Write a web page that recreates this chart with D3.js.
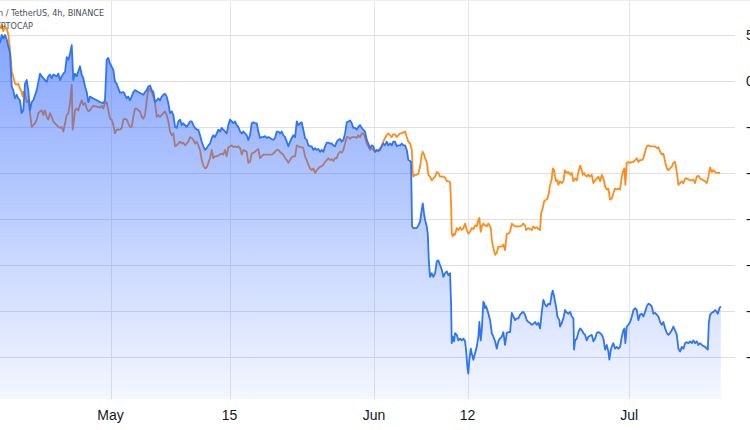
<!DOCTYPE html>
<html>
<head>
<meta charset="utf-8">
<script src="https://cdn.jsdelivr.net/npm/d3@7"></script>
<style>
  html, body { margin: 0; padding: 0; background: #fff; overflow: hidden; }
  svg { display: block; }
</style>
</head>
<body>
<div id="chart"></div>
<script>
// % change vs. start of range, as [days since Apr 18, percent]
var coinPct = [
  [0,4.1],[0.2,5.0],[0.39,4.6],[0.59,5.0],[0.79,4.5],[1.18,3.0],[1.38,-0.6],[1.56,-1.0],[1.76,-1.9],[1.96,-1.5],
  [2.15,-1.9],[2.35,-2.1],[2.55,-3.5],[2.74,-3.2],[2.94,-0.3],[3.14,0.1],[3.33,-1.0],[3.53,-3.2],[3.73,-2.3],[3.92,-2.1],
  [4.32,-1.0],[4.71,0.8],[4.91,0.5],[5.09,0.3],[5.49,-0.1],[5.68,0.5],[5.88,0.7],[6.08,0.3],[6.27,0.7],[6.67,0.5],
  [6.86,0.8],[7.06,0.1],[7.26,0.5],[7.45,0.8],[7.65,1.0],[7.85,2.6],[8.04,2.3],[8.24,3.0],[8.44,3.9],[8.62,0.1],
  [8.82,0.8],[9.02,0.5],[9.41,1.6],[9.61,0.7],[9.8,0.3],[10.0,-0.6],[10.2,-1.2],[10.39,-2.3],[10.59,-1.7],[10.98,-1.9],
  [11.38,-2.1],[11.76,-2.3],[12.15,-2.4],[12.35,-2.1],[12.55,2.3],[12.74,2.5],[12.94,1.9],[13.33,1.2],[13.53,-0.1],[13.73,-0.3],
  [13.92,-0.8],[14.12,-1.3],[14.51,-1.2],[14.71,-1.5],[14.91,-1.9],[15.09,-1.7],[15.29,-2.1],[15.49,-1.7],[15.68,-1.2],[15.88,-1.0],
  [16.27,-1.2],[16.47,-1.3],[16.86,-1.5],[17.06,-1.2],[17.26,-1.0],[17.45,-0.6],[17.65,-0.5],[17.85,-1.0],[18.04,-1.2],[18.24,-2.3],
  [18.44,-2.1],[18.62,-1.9],[18.82,-2.1],[19.02,-1.7],[19.21,-1.5],[19.41,-1.4],[19.61,-1.7],[19.8,-2.4],[20.0,-3.5],[20.2,-3.3],
  [20.39,-3.7],[20.59,-5.0],[20.79,-5.1],[20.98,-4.4],[21.18,-4.2],[21.38,-4.8],[21.56,-4.6],[21.96,-5.0],[22.35,-4.4],[22.55,-4.4],
  [22.74,-4.8],[22.94,-5.1],[23.14,-5.3],[23.33,-5.3],[23.53,-5.9],[23.73,-6.6],[23.92,-7.1],[24.12,-7.5],[24.32,-7.3],[24.51,-7.0],
  [24.71,-6.8],[24.91,-6.2],[25.09,-5.9],[25.29,-6.1],[25.49,-5.7],[25.68,-5.3],[25.88,-5.5],[26.08,-5.1],[26.27,-5.3],[26.47,-5.5],
  [26.67,-5.7],[26.86,-4.8],[27.06,-4.2],[27.26,-4.4],[27.45,-4.6],[27.65,-4.4],[27.85,-4.8],[28.04,-5.0],[28.24,-5.5],[28.44,-5.7],
  [28.62,-5.5],[28.82,-5.7],[29.02,-5.9],[29.21,-6.4],[29.41,-5.9],[29.61,-4.6],[29.8,-4.5],[30.0,-4.6],[30.2,-4.6],[30.39,-5.5],
  [30.59,-6.2],[30.79,-6.1],[30.98,-6.1],[31.18,-6.0],[31.38,-6.2],[31.56,-6.1],[31.76,-6.2],[31.96,-6.3],[32.15,-6.4],[32.35,-6.2],
  [32.55,-5.5],[32.74,-5.5],[32.94,-5.7],[33.14,-5.5],[33.33,-5.9],[33.53,-6.1],[33.73,-6.6],[33.92,-7.1],[34.12,-6.6],[34.32,-6.2],
  [34.51,-5.9],[34.71,-6.1],[34.91,-4.4],[35.09,-4.8],[35.29,-4.6],[35.49,-4.5],[35.68,-5.3],[35.88,-6.2],[36.08,-6.4],[36.27,-7.0],
  [36.47,-7.1],[36.67,-7.1],[36.86,-7.5],[37.06,-7.3],[37.26,-7.5],[37.45,-7.4],[37.65,-7.7],[37.85,-7.5],[38.04,-7.7],[38.24,-7.1],
  [38.44,-6.7],[38.62,-6.7],[38.82,-6.8],[39.02,-6.8],[39.21,-7.0],[39.41,-7.1],[39.61,-6.6],[39.8,-6.4],[40.0,-6.3],[40.2,-6.6],
  [40.39,-6.4],[40.59,-5.7],[40.79,-4.5],[40.98,-4.4],[41.18,-4.3],[41.38,-4.6],[41.56,-5.1],[41.76,-5.1],[41.96,-5.3],[42.15,-5.0],
  [42.35,-4.8],[42.55,-5.1],[42.74,-5.3],[42.94,-5.5],[43.14,-6.4],[43.33,-6.8],[43.53,-7.3],[43.73,-7.0],[43.92,-7.1],[44.12,-7.7],
  [44.32,-7.5],[44.51,-7.6],[44.71,-7.5],[44.91,-7.1],[45.09,-6.8],[45.29,-7.0],[45.49,-6.6],[45.68,-7.0],[45.88,-6.8],[46.08,-7.0],
  [46.27,-6.6],[46.47,-6.6],[46.67,-7.1],[46.86,-7.0],[47.06,-7.0],[47.26,-6.8],[47.45,-7.0],[47.65,-7.0],[47.85,-7.5],[48.04,-8.6],
  [48.24,-8.7],[48.35,-8.8],[48.47,-15.8],[48.62,-16.0],[48.82,-16.0],[49.02,-16.0],[49.21,-15.7],[49.41,-15.3],[49.61,-14.0],[49.73,-13.3],
  [49.88,-14.4],[50.0,-15.1],[50.2,-15.8],[50.32,-16.6],[50.44,-19.5],[50.59,-21.3],[50.79,-20.9],[50.98,-21.3],[51.18,-20.9],[51.38,-19.6],
  [51.56,-19.5],[51.76,-20.0],[51.96,-20.5],[52.15,-21.3],[52.35,-20.9],[52.55,-20.7],[52.74,-21.1],[52.94,-20.9],[53.06,-24.2],[53.14,-28.5],
  [53.26,-27.8],[53.41,-28.3],[53.53,-27.4],[53.73,-27.6],[53.92,-28.2],[54.12,-28.0],[54.32,-28.2],[54.51,-28.0],[54.71,-28.3],[54.82,-29.2],
  [54.98,-31.1],[55.09,-31.8],[55.21,-30.3],[55.38,-29.1],[55.49,-29.6],[55.68,-30.3],[55.88,-29.6],[56.08,-28.9],[56.27,-27.8],[56.39,-26.2],
  [56.55,-28.2],[56.67,-27.1],[56.86,-24.0],[56.98,-24.2],[57.06,-24.7],[57.18,-24.5],[57.33,-24.9],[57.45,-25.3],[57.65,-26.0],[57.85,-27.4],
  [58.04,-27.8],[58.24,-28.3],[58.44,-29.1],[58.62,-28.3],[58.82,-28.0],[59.02,-27.8],[59.21,-27.3],[59.41,-28.7],[59.61,-27.4],[59.8,-27.3],
  [60.0,-27.3],[60.2,-25.2],[60.39,-25.6],[60.59,-26.0],[60.79,-25.8],[60.98,-25.8],[61.18,-25.4],[61.38,-25.2],[61.56,-25.1],[61.76,-25.4],
  [61.96,-26.0],[62.15,-26.2],[62.35,-26.3],[62.55,-26.5],[62.74,-26.4],[62.94,-26.2],[63.14,-26.5],[63.33,-26.3],[63.53,-26.9],[63.73,-25.1],
  [63.92,-23.8],[64.12,-24.3],[64.32,-24.5],[64.51,-24.2],[64.71,-24.3],[64.91,-23.1],[65.02,-22.8],[65.18,-23.4],[65.29,-24.0],[65.41,-24.5],
  [65.56,-25.6],[65.68,-25.8],[65.8,-26.0],[65.88,-26.7],[66.08,-26.3],[66.27,-25.8],[66.47,-24.9],[66.59,-25.1],[66.86,-25.3],[67.06,-25.1],
  [67.26,-25.6],[67.45,-25.8],[67.53,-29.2],[67.65,-28.2],[67.85,-28.0],[68.04,-27.3],[68.24,-26.9],[68.44,-27.1],[68.62,-27.4],[68.82,-27.6],
  [69.02,-28.2],[69.21,-27.8],[69.41,-27.7],[69.61,-27.6],[69.8,-28.3],[70.0,-28.0],[70.2,-27.4],[70.39,-27.3],[70.59,-27.4],[70.79,-27.6],
  [70.98,-28.0],[71.18,-29.2],[71.38,-28.7],[71.56,-29.4],[71.68,-30.3],[71.85,-29.2],[71.96,-28.9],[72.15,-28.5],[72.35,-29.1],[72.55,-28.9],
  [72.74,-29.1],[72.94,-28.9],[73.14,-27.8],[73.33,-27.1],[73.45,-26.9],[73.56,-28.5],[73.73,-26.7],[73.92,-26.5],[74.12,-26.2],[74.32,-25.6],
  [74.51,-24.9],[74.71,-24.7],[74.91,-24.9],[75.09,-26.0],[75.29,-25.4],[75.49,-25.3],[75.68,-25.6],[75.88,-25.1],[76.08,-24.5],[76.27,-24.2],
  [76.47,-24.3],[76.67,-24.5],[76.86,-25.3],[77.06,-25.2],[77.26,-25.4],[77.45,-25.6],[77.65,-26.2],[77.85,-26.5],[78.04,-26.2],[78.24,-26.9],
  [78.44,-27.4],[78.62,-27.6],[78.82,-27.4],[79.02,-27.1],[79.21,-26.7],[79.41,-27.1],[79.61,-27.6],[79.8,-29.1],[80.0,-29.4],[80.2,-28.9],
  [80.39,-29.1],[80.59,-28.5],[80.79,-28.4],[80.98,-28.5],[81.18,-28.3],[81.38,-28.5],[81.56,-28.2],[81.76,-28.5],[81.96,-28.3],[82.15,-28.7],
  [82.35,-28.5],[82.55,-28.7],[82.74,-28.8],[82.94,-28.9],[83.14,-29.1],[83.26,-29.2],[83.38,-26.3],[83.53,-25.4],[83.73,-25.2],[83.92,-25.1],
  [84.12,-24.9],[84.32,-25.1],[84.44,-25.3],[84.62,-24.7],[84.79,-24.5]
];

var totalPct = [
  [0,5.7],[0.2,6.1],[0.39,5.4],[0.59,5.9],[0.79,5.7],[0.98,5.0],[1.18,3.4],[1.38,1.0],[1.56,0.5],[1.76,-0.3],
  [1.96,-0.4],[2.15,-0.3],[2.35,-0.8],[2.55,-1.2],[2.67,-1.7],[2.74,-1.2],[2.94,-1.3],[3.14,-2.3],[3.33,-2.1],[3.53,-3.5],
  [3.73,-5.0],[3.92,-4.8],[4.12,-4.6],[4.32,-4.2],[4.51,-3.5],[4.71,-3.3],[4.91,-3.2],[5.09,-3.7],[5.29,-3.2],[5.49,-3.9],
  [5.68,-4.2],[5.88,-3.5],[6.08,-3.9],[6.27,-4.4],[6.47,-4.6],[6.67,-4.8],[6.86,-5.0],[7.06,-5.1],[7.26,-5.0],[7.45,-5.5],
  [7.65,-4.6],[7.85,-3.7],[8.04,-3.5],[8.24,-2.4],[8.44,-0.4],[8.55,-5.3],[8.71,-4.2],[8.82,-3.2],[9.02,-3.0],[9.21,-3.2],
  [9.41,-2.6],[9.61,-2.1],[9.8,-2.6],[10.0,-2.4],[10.2,-3.0],[10.39,-3.3],[10.59,-3.2],[10.79,-2.9],[10.98,-2.7],[11.38,-2.8],
  [11.76,-2.9],[11.96,-2.7],[12.15,-3.0],[12.35,-2.4],[12.55,-2.3],[12.74,-3.2],[12.94,-4.1],[13.14,-4.2],[13.33,-4.8],[13.53,-5.7],
  [13.73,-5.3],[13.92,-5.3],[14.12,-5.3],[14.32,-5.1],[14.51,-4.2],[14.71,-4.1],[14.91,-4.2],[15.09,-4.6],[15.29,-5.0],[15.49,-5.0],
  [15.68,-3.9],[15.88,-3.0],[16.08,-3.0],[16.27,-3.2],[16.47,-3.3],[16.67,-3.9],[16.86,-4.1],[17.06,-3.7],[17.26,-2.1],[17.45,-0.8],
  [17.65,-1.0],[17.85,-1.2],[18.04,-1.7],[18.24,-2.4],[18.44,-3.9],[18.62,-3.7],[18.82,-3.9],[19.02,-3.7],[19.21,-3.5],[19.41,-3.3],
  [19.61,-3.7],[19.8,-4.4],[20.0,-5.5],[20.2,-5.9],[20.39,-5.7],[20.59,-7.1],[20.79,-7.0],[20.98,-6.8],[21.18,-6.6],[21.38,-6.8],
  [21.56,-6.7],[21.76,-7.0],[21.96,-6.8],[22.15,-6.6],[22.35,-6.1],[22.55,-6.2],[22.74,-6.4],[22.94,-6.8],[23.14,-6.6],[23.33,-7.0],
  [23.53,-7.5],[23.73,-8.6],[23.92,-9.2],[24.12,-9.5],[24.32,-9.4],[24.51,-8.9],[24.71,-8.4],[24.91,-7.5],[25.09,-8.4],[25.29,-8.2],
  [25.49,-8.2],[25.88,-8.0],[26.08,-7.9],[26.27,-8.0],[26.47,-7.5],[26.67,-8.2],[26.86,-7.2],[27.06,-7.1],[27.26,-7.0],[27.45,-7.2],
  [27.65,-7.1],[27.85,-7.2],[28.04,-7.1],[28.24,-7.3],[28.44,-8.0],[28.62,-7.5],[28.82,-7.6],[29.02,-7.7],[29.21,-8.9],[29.41,-8.8],
  [29.61,-7.9],[29.8,-7.8],[30.0,-7.7],[30.2,-7.5],[30.39,-7.4],[30.59,-8.4],[30.79,-8.2],[30.98,-8.0],[31.18,-8.0],[31.38,-8.0],
  [31.56,-8.0],[31.76,-8.0],[31.96,-8.0],[32.15,-7.9],[32.35,-7.7],[32.55,-7.5],[32.74,-7.5],[32.94,-7.7],[33.14,-7.9],[33.33,-8.0],
  [33.53,-8.4],[33.73,-8.6],[33.92,-8.9],[34.12,-8.6],[34.32,-8.3],[34.51,-8.2],[34.71,-8.2],[34.91,-7.0],[35.09,-7.1],[35.29,-7.2],
  [35.49,-7.2],[35.68,-7.3],[35.88,-8.2],[36.08,-8.6],[36.27,-9.1],[36.47,-9.5],[36.67,-9.7],[36.86,-9.5],[37.06,-10.0],[37.26,-9.7],
  [37.45,-9.5],[37.65,-9.3],[37.85,-9.3],[38.04,-9.1],[38.24,-8.8],[38.44,-8.6],[38.62,-8.4],[38.82,-8.6],[39.02,-8.5],[39.21,-8.7],
  [39.41,-8.4],[39.61,-8.4],[39.8,-7.9],[40.0,-7.7],[40.2,-7.8],[40.39,-7.5],[40.59,-6.8],[40.79,-6.1],[40.98,-6.1],[41.18,-6.3],
  [41.38,-6.1],[41.56,-6.1],[41.76,-6.1],[41.96,-6.2],[42.15,-5.9],[42.35,-6.1],[42.55,-5.7],[42.74,-5.7],[42.94,-6.1],[43.14,-6.8],
  [43.33,-7.1],[43.53,-7.5],[43.73,-7.3],[43.92,-7.5],[44.12,-7.7],[44.32,-7.6],[44.51,-7.5],[44.71,-7.3],[44.91,-7.0],[45.09,-6.6],
  [45.29,-6.2],[45.49,-5.9],[45.68,-5.7],[45.88,-5.9],[46.08,-6.1],[46.27,-5.8],[46.47,-5.8],[46.67,-6.1],[46.86,-5.9],[47.06,-5.7],
  [47.26,-5.7],[47.45,-5.6],[47.65,-5.5],[47.85,-6.1],[48.04,-6.6],[48.24,-6.8],[48.44,-7.5],[48.55,-9.9],[48.62,-10.4],[48.82,-10.2],
  [49.02,-10.2],[49.21,-10.1],[49.41,-9.3],[49.61,-8.0],[49.73,-7.7],[49.88,-8.0],[50.0,-8.4],[50.2,-8.8],[50.39,-10.2],[50.59,-10.4],
  [50.79,-10.8],[50.98,-10.6],[51.18,-10.4],[51.38,-9.9],[51.56,-10.0],[51.76,-10.4],[51.96,-10.4],[52.15,-10.4],[52.35,-10.5],[52.55,-10.9],
  [52.74,-10.9],[52.94,-11.0],[53.06,-13.3],[53.14,-16.6],[53.26,-16.9],[53.41,-16.6],[53.53,-16.7],[53.73,-16.0],[53.92,-16.2],[54.12,-15.9],
  [54.32,-16.2],[54.51,-16.0],[54.71,-15.5],[54.91,-16.2],[55.09,-16.6],[55.29,-16.4],[55.49,-16.0],[55.68,-16.1],[55.88,-15.7],[56.08,-15.8],
  [56.27,-15.1],[56.39,-14.9],[56.55,-16.4],[56.67,-15.8],[56.86,-15.5],[57.06,-15.7],[57.26,-15.8],[57.45,-15.5],[57.65,-15.8],[57.76,-16.2],
  [57.85,-17.3],[58.04,-18.2],[58.24,-18.9],[58.44,-18.7],[58.62,-18.0],[58.82,-18.0],[59.02,-18.0],[59.21,-17.8],[59.41,-18.4],[59.61,-16.6],
  [59.8,-16.6],[60.0,-16.4],[60.2,-15.5],[60.39,-15.7],[60.59,-15.8],[60.79,-15.8],[61.18,-15.8],[61.38,-15.7],[61.56,-15.5],[61.76,-15.7],
  [61.88,-16.2],[62.15,-16.0],[62.35,-16.1],[62.55,-16.2],[62.74,-15.8],[62.94,-16.0],[63.14,-15.9],[63.33,-16.1],[63.53,-16.2],[63.65,-14.4],
  [63.85,-13.8],[64.0,-13.1],[64.24,-12.9],[64.39,-12.8],[64.51,-12.4],[64.71,-11.3],[64.91,-10.6],[65.02,-9.5],[65.18,-9.7],[65.29,-10.4],
  [65.41,-10.9],[65.56,-10.8],[65.68,-11.3],[65.88,-10.9],[66.08,-11.1],[66.27,-10.9],[66.47,-9.7],[66.59,-9.9],[66.74,-10.0],[66.86,-9.9],
  [67.06,-10.2],[67.26,-10.0],[67.45,-10.9],[67.65,-10.6],[67.85,-10.8],[68.04,-9.9],[68.24,-9.2],[68.44,-9.7],[68.55,-10.2],[68.71,-10.0],
  [68.82,-10.2],[69.02,-10.4],[69.21,-10.2],[69.41,-10.4],[69.61,-10.2],[69.8,-11.1],[70.0,-10.8],[70.2,-10.6],[70.39,-10.4],[70.59,-10.9],
  [70.79,-10.2],[70.98,-10.6],[71.18,-11.5],[71.38,-11.8],[71.56,-11.7],[71.76,-12.9],[71.96,-12.8],[72.15,-12.2],[72.35,-11.7],[72.55,-11.8],
  [72.74,-11.7],[72.94,-11.8],[73.14,-10.4],[73.33,-9.7],[73.45,-9.5],[73.56,-11.3],[73.73,-8.9],[73.92,-8.8],[74.12,-8.9],[74.32,-8.8],
  [74.51,-8.8],[74.71,-8.6],[74.91,-8.4],[75.09,-8.8],[75.29,-8.6],[75.49,-8.6],[75.68,-8.4],[75.88,-7.7],[76.08,-7.1],[76.27,-7.0],
  [76.47,-7.1],[76.67,-7.1],[76.86,-7.1],[77.06,-7.1],[77.26,-7.3],[77.45,-7.2],[77.65,-7.7],[77.85,-8.0],[78.04,-7.9],[78.24,-8.8],
  [78.44,-9.5],[78.62,-9.7],[78.82,-9.5],[79.02,-9.3],[79.21,-8.9],[79.41,-8.8],[79.61,-9.9],[79.8,-11.3],[80.0,-11.1],[80.2,-10.9],
  [80.39,-11.1],[80.59,-10.6],[80.79,-10.6],[80.98,-10.7],[81.18,-10.8],[81.38,-10.8],[81.56,-10.7],[81.76,-11.1],[81.96,-10.4],[82.15,-10.3],
  [82.35,-10.6],[82.55,-10.7],[82.74,-10.8],[82.94,-10.9],[83.14,-11.1],[83.33,-10.4],[83.53,-9.4],[83.73,-9.9],[83.92,-9.7],[84.12,-9.9],
  [84.32,-10.0],[84.51,-10.0],[84.71,-10.0]
];

var yTicks = [5, 0, -5, -10, -15, -20, -25, -30];
var yTickLabels = ["5.00%", "0.00%", "-5.00%", "-10.00%", "-15.00%", "-20.00%", "-25.00%", "-30.00%"];
var xTickDates = ["2023-05-01", "2023-05-15", "2023-06-01", "2023-06-12", "2023-07-01"];
var xTickLabels = ["May", "15", "Jun", "12", "Jul"];
var legendLines = ["Polygon / TetherUS, 4h, BINANCE", "Crypto Total Market Cap, $, 4h, CRYPTOCAP"];

var w = 750, h = 430;
var plotRight = 735, plotBottom = 399;
var start = new Date(2023, 3, 18);
var parseDay = d3.timeParse("%Y-%m-%d");
var toDate = d => new Date(start.getTime() + d * 864e5);

var svg = d3.select("#chart").append("svg")
  .attr("width", w)
  .attr("height", h)
  .style("font-family", "'Liberation Sans', Arial, sans-serif");

var x = d3.scaleTime()
  .domain([start, new Date(2023, 6, 13, 11)])
  .range([0, plotRight]);

var y = d3.scaleLinear()
  .domain([-34.57, 8.8])
  .range([plotBottom, 0]);

// gradient for the area
var grad = svg.append("defs").append("linearGradient")
  .attr("id", "fillGrad")
  .attr("gradientUnits", "userSpaceOnUse")
  .attr("x1", 0).attr("x2", 0)
  .attr("y1", 0).attr("y2", plotBottom);
grad.append("stop").attr("offset", 0).attr("stop-color", "#2962ff").attr("stop-opacity", 0.62);
grad.append("stop").attr("offset", 1).attr("stop-color", "#2962ff").attr("stop-opacity", 0.05);

// grid
var xTicks = xTickDates.map(parseDay);
svg.append("g")
  .selectAll("line")
  .data(xTicks)
  .enter().append("line")
  .attr("x1", d => Math.round(x(d)) + 0.5)
  .attr("x2", d => Math.round(x(d)) + 0.5)
  .attr("y1", 0)
  .attr("y2", plotBottom)
  .attr("stroke", "#e3e5ea");

svg.append("g")
  .selectAll("line")
  .data(yTicks)
  .enter().append("line")
  .attr("x1", 0)
  .attr("x2", plotRight)
  .attr("y1", d => Math.round(y(d)) + 0.5)
  .attr("y2", d => Math.round(y(d)) + 0.5)
  .attr("stroke", "#dedfe3");

svg.append("line")
  .attr("x1", 0).attr("x2", w)
  .attr("y1", 0.5).attr("y2", 0.5)
  .attr("stroke", "#eceef2");

var line = d3.line()
  .x(d => x(toDate(d[0])))
  .y(d => y(d[1]));

var area = d3.area()
  .x(d => x(toDate(d[0])))
  .y0(plotBottom)
  .y1(d => y(d[1]));

// total market cap line sits under the area fill
svg.append("path")
  .datum(totalPct)
  .attr("fill", "none")
  .attr("stroke", "#ff8c1a")
  .attr("stroke-width", 1.8)
  .attr("stroke-linejoin", "round")
  .attr("d", line);

svg.append("path")
  .datum(coinPct)
  .attr("fill", "url(#fillGrad)")
  .attr("d", area);

svg.append("path")
  .datum(coinPct)
  .attr("fill", "none")
  .attr("stroke", "#2f74f2")
  .attr("stroke-width", 1.8)
  .attr("stroke-linejoin", "round")
  .attr("d", line);

// x axis labels
svg.append("g")
  .selectAll("text")
  .data(xTicks)
  .enter().append("text")
  .attr("x", d => x(d))
  .attr("y", 420)
  .attr("text-anchor", "middle")
  .attr("fill", "#131722")
  .style("font-size", "14px")
  .text((d, i) => xTickLabels[i]);

// y axis labels (cut off by the right edge, as in the source)
svg.append("g")
  .selectAll("text")
  .data(yTicks)
  .enter().append("text")
  .attr("x", 746)
  .attr("y", d => y(d))
  .attr("dy", "0.35em")
  .attr("fill", "#131722")
  .style("font-size", "14px")
  .text((d, i) => yTickLabels[i]);

// legend, partly off the left edge
var legendEnds = [104, 33];
svg.append("g")
  .selectAll("text")
  .data(legendLines)
  .enter().append("text")
  .attr("x", (d, i) => legendEnds[i])
  .attr("y", (d, i) => 16 + i * 12.5)
  .attr("text-anchor", "end")
  .attr("fill", "#4a4e59")
  .style("font-size", "9px")
  .style("font-family", "'Liberation Sans Narrow', 'DejaVu Sans Condensed', sans-serif")
  .text(d => d);
</script>
</body>
</html>
